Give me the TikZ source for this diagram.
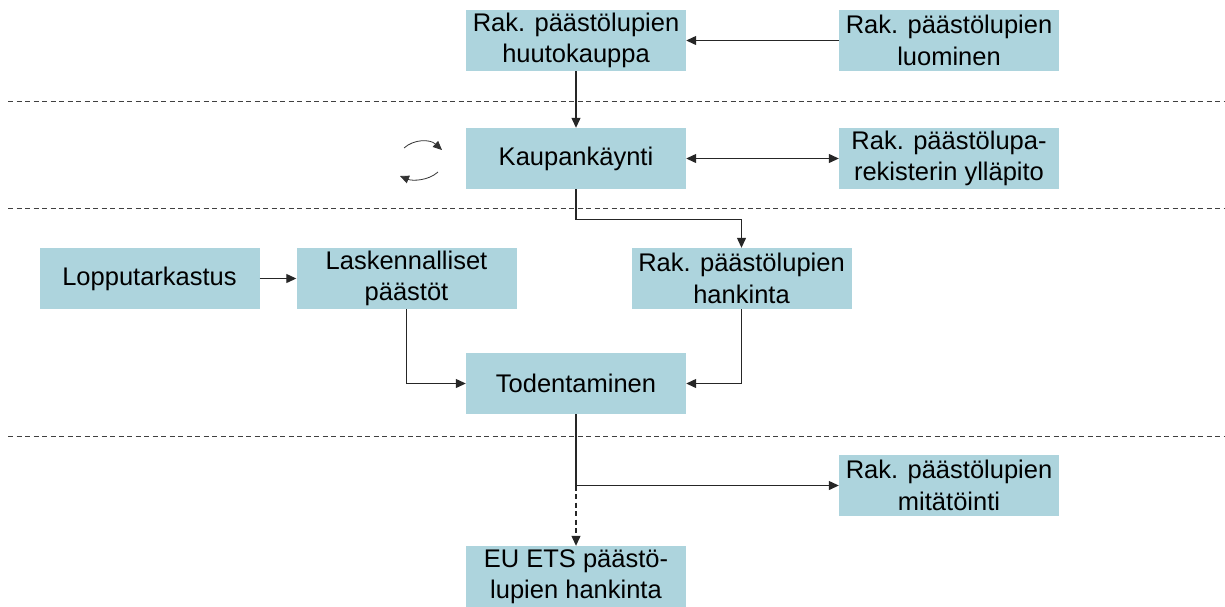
\documentclass[tikz,border=0pt]{standalone}
\usepackage{fontspec}
\setmainfont{Liberation Sans}
\usetikzlibrary{arrows.meta}
\definecolor{boxblue}{RGB}{173,212,221}
\begin{document}
\begin{tikzpicture}[x=1pt,y=-1pt,
  box/.style={fill=boxblue, minimum width=220pt, minimum height=61pt, inner sep=0pt, align=center, font=\fontsize{25.5}{31.5}\selectfont},
  conn/.style={draw=black!85, line width=1.2pt, -{Triangle[length=10pt,width=9pt]}},
  both/.style={draw=black!85, line width=1.2pt, {Triangle[length=10pt,width=9pt]}-{Triangle[length=10pt,width=9pt]}},
  dconn/.style={conn, dash pattern=on 5pt off 3.5pt},
  sep/.style={draw=black!75, line width=0.9pt, dash pattern=on 5pt off 3.5pt},
  cyc/.style={draw=black!80, line width=0.8pt, -{Triangle[length=9pt,width=8pt]}}]
\useasboundingbox (0,0) rectangle (1225,606);
% separators
\draw[sep] (8,101) -- (1225,101);
\draw[sep] (8,208) -- (1225,208);
\draw[sep] (8,436) -- (1225,436);
% boxes
\node[box] (huut) at (576,40.5) {Rak. päästölupien\\huutokauppa};
\node[box] (luom) at (949,40.5) {Rak. päästölupien\\luominen};
\node[box] (kaup) at (576,158.5) {Kaupankäynti};
\node[box] (rek) at (949,158.5) {Rak. päästölupa-\\rekisterin ylläpito};
\node[box] (lopp) at (149.5,278.5) {Lopputarkastus};
\node[box] (lask) at (406.5,278.5) {Laskennalliset\\päästöt};
\node[box] (hank) at (741.5,278.5) {Rak. päästölupien\\hankinta};
\node[box] (tod) at (576,383.5) {Todentaminen};
\node[box] (mit) at (949,485.5) {Rak. päästölupien\\mitätöinti};
\node[box] (eu) at (576,576.5) {EU ETS päästö-\\lupien hankinta};
% connectors
\draw[conn] (luom.west) -- (huut.east);
\draw[conn] (huut.south) -- (kaup.north);
\draw[both] (kaup.east) -- (rek.west);
\draw[conn] (kaup.south) -- ++(0,30) -| (hank.north);
\draw[conn] (lopp.east) -- (lask.west);
\draw[conn] (lask.south) |- (tod.west);
\draw[conn] (hank.south) |- (tod.east);
\coordinate (split) at (tod.south |- mit.west);
\draw[conn] (tod.south) |- (mit.west);
\draw[dconn] (split) -- (eu.north);
% cycle arrows
\draw[cyc] (404,148) .. controls (414,139) and (430,139) .. (442,150);
\draw[cyc] (438,172) .. controls (428,181) and (412,181) .. (400,176);
\end{tikzpicture}
\end{document}
